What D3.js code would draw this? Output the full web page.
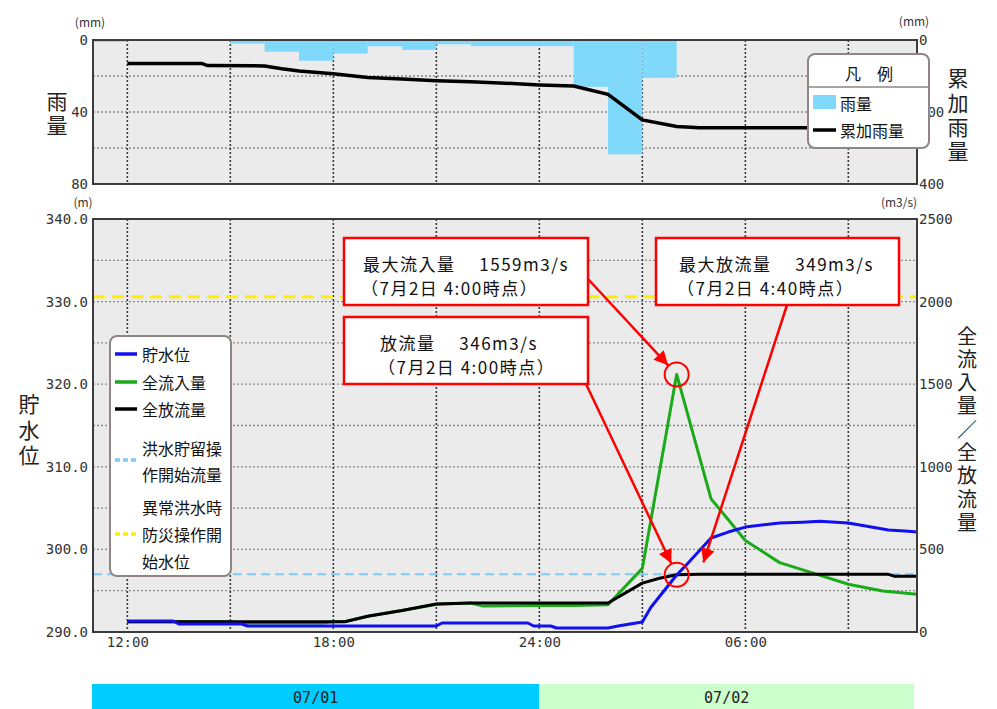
<!DOCTYPE html>
<html><head><meta charset="utf-8">
<script src="https://cdn.jsdelivr.net/npm/d3@7"></script>
<style>
body{margin:0;background:#fff;}
svg text{font-family:"Noto Sans CJK JP","Noto Sans",sans-serif;}
</style></head><body>
<svg id="c" width="997" height="709"></svg>
<script>
// ---------- DATA ----------
// hourly rainfall (mm), each value is the hour ending at the given time
const rainTimes  = ["07/01 12:00","07/01 13:00","07/01 14:00","07/01 15:00","07/01 16:00","07/01 17:00","07/01 18:00","07/01 19:00","07/01 20:00","07/01 21:00","07/01 22:00","07/01 23:00","07/02 00:00","07/02 01:00","07/02 02:00","07/02 03:00","07/02 04:00","07/02 05:00","07/02 06:00","07/02 07:00","07/02 08:00","07/02 09:00","07/02 10:00","07/02 11:00"];
const rainValues = [1, 0, 0, 0, 2, 6.5, 11.5, 7.5, 3.5, 5.5, 2.4, 3.4, 3.4, 3.4, 26, 63.5, 21, 0, 0, 0, 0, 0, 0, 0];

// cumulative rainfall (mm)
const cumTimes  = ["07/01 12:00","07/01 14:10","07/01 14:20","07/01 16:00","07/01 16:30","07/01 17:00","07/01 18:00","07/01 19:00","07/01 20:00","07/01 21:00","07/01 22:00","07/01 23:00","07/02 00:00","07/02 01:00","07/02 02:00","07/02 03:00","07/02 04:00","07/02 04:40","07/02 11:00"];
const cumValues = [65, 65, 71, 72, 80, 86, 94, 104, 108, 113, 116, 120, 125, 128, 151, 222, 240, 244, 244];

// reservoir water level (m)
const levelTimes  = ["07/01 12:00","07/01 13:20","07/01 13:30","07/01 15:20","07/01 15:30","07/01 21:00","07/01 21:10","07/01 23:40","07/01 23:50","07/02 00:20","07/02 00:30","07/02 02:00","07/02 02:20","07/02 03:00","07/02 03:15","07/02 04:00","07/02 04:20","07/02 05:00","07/02 05:30","07/02 06:00","07/02 07:00","07/02 07:40","07/02 08:10","07/02 09:00","07/02 09:40","07/02 10:10","07/02 10:45","07/02 11:00"];
const levelValues = [291.33, 291.33, 290.97, 290.97, 290.73, 290.73, 291.09, 291.09, 290.73, 290.73, 290.48, 290.48, 290.75, 291.21, 293.0, 296.9, 298.35, 301.38, 302.1, 302.7, 303.2, 303.3, 303.4, 303.2, 302.7, 302.35, 302.2, 302.1];

// total inflow (m3/s)
const inflowTimes  = ["07/01 12:00","07/01 15:00","07/01 15:20","07/01 17:40","07/01 18:00","07/01 18:20","07/01 19:00","07/01 20:00","07/01 21:00","07/01 22:00","07/01 22:20","07/02 00:00","07/02 01:00","07/02 02:00","07/02 03:00","07/02 04:00","07/02 05:00","07/02 06:00","07/02 07:00","07/02 08:00","07/02 09:00","07/02 10:00","07/02 11:00"];
const inflowValues = [62, 62, 55, 55, 62, 63, 95, 130, 168, 176, 158, 160, 160, 165, 385, 1559, 807, 554, 420, 355, 289, 248, 229];

// total outflow (m3/s)
const outflowTimes  = ["07/01 12:00","07/01 18:20","07/01 19:00","07/01 20:00","07/01 21:00","07/01 22:00","07/02 02:00","07/02 03:00","07/02 03:30","07/02 04:00","07/02 04:40","07/02 10:10","07/02 10:20","07/02 11:00"];
const outflowValues = [62, 62, 95, 130, 170, 176, 176, 296, 325, 346, 349, 349, 338, 338];

const floodStartFlow = 350;     // 洪水貯留操作開始流量 (m3/s)
const emergencyLevel = 330.6;   // 異常洪水時防災操作開始水位 (m)

const xTickTimes  = ["07/01 12:00","07/01 18:00","07/02 00:00","07/02 06:00"];
const xTickLabels = ["12:00","18:00","24:00","06:00"];
const gridTimes   = ["07/01 12:00","07/01 15:00","07/01 18:00","07/01 21:00","07/02 00:00","07/02 03:00","07/02 06:00","07/02 09:00"];
const rainTicks   = [0, 40, 80];
const cumTicks    = [0, 200, 400];
const levelTicks  = [290, 300, 310, 320, 330, 340];
const flowTicks   = [0, 500, 1000, 1500, 2000, 2500];
const days        = [{label:"07/01", start:"07/01 11:00", end:"07/02 00:00"}, {label:"07/02", start:"07/02 00:00", end:"07/02 11:00"}];

const annotations = [
  {l1:"最大流入量　 1559m3/s", l2:"（7月2日 4:00時点）", time:"07/02 04:00", value:1559, circle:true},
  {l1:"放流量　 346m3/s",      l2:"（7月2日 4:00時点）", time:"07/02 04:00", value:346,  circle:true},
  {l1:"最大放流量　 349m3/s",  l2:"（7月2日 4:40時点）", time:"07/02 04:40", value:349,  circle:false}
];

// ---------- DRAW ----------
const parse = d3.timeParse("%m/%d %H:%M");
const svg = d3.select("#c");
const X0 = 93, X1 = 917;
const T0 = 40, T1 = 184;   // top panel
const B0 = 219, B1 = 632;  // bottom panel

const x = d3.scaleTime().domain([parse("07/01 11:00"), parse("07/02 11:00")]).range([X0, X1]);
const yRain = d3.scaleLinear().domain([0, 80]).range([T0, T1]);
const yCum  = d3.scaleLinear().domain([0, 400]).range([T0, T1]);
const yLev  = d3.scaleLinear().domain([290, 340]).range([B1, B0]);
const yFlow = d3.scaleLinear().domain([0, 2500]).range([B1, B0]);

const defs = svg.append("defs");
defs.append("clipPath").attr("id","clipT").append("rect").attr("x",X0).attr("y",T0).attr("width",X1-X0).attr("height",T1-T0);
defs.append("clipPath").attr("id","clipB").append("rect").attr("x",X0).attr("y",B0).attr("width",X1-X0).attr("height",B1-B0);
defs.append("marker").attr("id","arr").attr("viewBox","0 0 10 10").attr("refX",10).attr("refY",5)
  .attr("markerUnits","userSpaceOnUse").attr("markerWidth",15).attr("markerHeight",14).attr("orient","auto")
  .append("path").attr("d","M0,0 L10,5 L0,10 z").attr("fill","#ff0000");

function panel(y0, y1, hGridVals, hScale) {
  svg.append("rect").attr("x",X0).attr("y",y0).attr("width",X1-X0).attr("height",y1-y0).attr("fill","#ebebeb");
  const g = svg.append("g");
  g.selectAll("line.h").data(hGridVals).join("line")
    .attr("x1",X0).attr("x2",X1).attr("y1",d=>hScale(d)).attr("y2",d=>hScale(d))
    .attr("stroke","#8a8a8a").attr("stroke-width",1.3).attr("stroke-dasharray","2,2");
  g.selectAll("line.v").data(gridTimes).join("line")
    .attr("x1",d=>x(parse(d))).attr("x2",d=>x(parse(d))).attr("y1",y0).attr("y2",y1)
    .attr("stroke","#3a3a3a").attr("stroke-width",1.6).attr("stroke-dasharray","2,2");
}

// ----- top panel -----
panel(T0, T1, [20, 40, 60], yRain);
const gTop = svg.append("g").attr("clip-path","url(#clipT)");
gTop.selectAll("rect.rain").data(rainTimes.map((t,i)=>({t:parse(t), v:rainValues[i]})).filter(d=>d.v>0)).join("rect")
  .attr("x", d=>x(d3.timeHour.offset(d.t,-1)))
  .attr("width", d=>x(d.t)-x(d3.timeHour.offset(d.t,-1)))
  .attr("y", yRain(0)).attr("height", d=>yRain(d.v)-yRain(0))
  .attr("fill","#80d8fb");
gTop.append("path")
  .datum(cumTimes.map((t,i)=>({t:parse(t), v:cumValues[i]})))
  .attr("d", d3.line().x(d=>x(d.t)).y(d=>yCum(d.v)))
  .attr("fill","none").attr("stroke","#000").attr("stroke-width",3.5);
svg.append("rect").attr("x",X0).attr("y",T0).attr("width",X1-X0).attr("height",T1-T0)
  .attr("fill","none").attr("stroke","#3c3c3c").attr("stroke-width",2);

function styleAxis(g){
  g.select(".domain").remove();
  g.selectAll("text").attr("fill","#333").style("font-size","14px")
    .style("font-family","'DejaVu Sans Mono','Liberation Mono',monospace");
}
svg.append("g").attr("transform",`translate(${X0},0)`)
  .call(d3.axisLeft(yRain).tickValues(rainTicks).tickFormat(d3.format("d")).tickSize(0).tickPadding(5)).call(styleAxis);
svg.append("g").attr("transform",`translate(${X1},0)`)
  .call(d3.axisRight(yCum).tickValues(cumTicks).tickFormat(d3.format("d")).tickSize(0).tickPadding(2)).call(styleAxis);

// ----- bottom panel -----
panel(B0, B1, d3.range(250, 2500, 250), yFlow);
const gB = svg.append("g").attr("clip-path","url(#clipB)");
gB.append("line").attr("x1",X0).attr("x2",X1).attr("y1",yFlow(floodStartFlow)).attr("y2",yFlow(floodStartFlow))
  .attr("stroke","#80ccf5").attr("stroke-width",2).attr("stroke-dasharray","9,5");
const line = d3.line().x(d=>x(d.t)).y(d=>d.y);
function series(times, vals, scale, color){
  gB.append("path").datum(times.map((t,i)=>({t:parse(t), y:scale(vals[i])})))
    .attr("d", line).attr("fill","none").attr("stroke",color).attr("stroke-width",3).attr("stroke-linejoin","round");
}
series(inflowTimes, inflowValues, yFlow, "#1aaa1a");
series(outflowTimes, outflowValues, yFlow, "#000000");
series(levelTimes, levelValues, yLev, "#1010f0");
svg.append("line").attr("x1",X0).attr("x2",X1).attr("y1",yLev(emergencyLevel)).attr("y2",yLev(emergencyLevel))
  .attr("stroke","#ffee00").attr("stroke-width",3).attr("stroke-dasharray","12,7");
svg.append("rect").attr("x",X0).attr("y",B0).attr("width",X1-X0).attr("height",B1-B0)
  .attr("fill","none").attr("stroke","#3c3c3c").attr("stroke-width",2);

svg.append("g").attr("transform",`translate(${X0},0)`)
  .call(d3.axisLeft(yLev).tickValues(levelTicks).tickFormat(d3.format(".1f")).tickSize(0).tickPadding(5)).call(styleAxis);
svg.append("g").attr("transform",`translate(${X1},0)`)
  .call(d3.axisRight(yFlow).tickValues(flowTicks).tickFormat(d3.format("d")).tickSize(0).tickPadding(2)).call(styleAxis);
svg.append("g").attr("transform",`translate(0,${B1})`)
  .call(d3.axisBottom(x).tickValues(xTickTimes.map(parse)).tickFormat((d,i)=>xTickLabels[i]).tickSize(0).tickPadding(5)).call(styleAxis);

// units
const unit = (t, xx, yy) => svg.append("text").text(t).attr("x",xx).attr("y",yy)
  .attr("text-anchor","middle").attr("dominant-baseline","central").attr("fill","#333").style("font-size","12px");
unit("(mm)", 90, 21);
unit("(mm)", 914, 20);
unit("(m)", 83, 201);
unit("(m3/s)", 899, 201);

// vertical titles (single text, vertical writing mode)
function vtitle(str, xx, yTop, step, size){
  svg.append("text").text(str).attr("x",xx).attr("y",yTop)
    .style("writing-mode","vertical-rl").style("glyph-orientation-vertical","0")
    .style("font-size",size+"px").style("letter-spacing",(step-size)+"px")
    .attr("fill","#222");
}
vtitle("雨量", 57, 91, 23.5, 21);
vtitle("累加雨量", 958, 68, 24.2, 21);
vtitle("貯水位", 29, 394, 25.5, 21);
vtitle("全流入量／全放流量", 967, 326, 23.3, 20);

// day bar
const gd = svg.append("g");
days.forEach((d,i)=>{
  const xa = i===0 ? 92 : x(parse(d.start));
  const xb = i===0 ? x(parse(d.end)) : 914;
  gd.append("rect").attr("x",xa).attr("y",684).attr("width",xb-xa).attr("height",30)
    .attr("fill", i===0 ? "#00ccff" : "#ccffcc");
  gd.append("text").text(d.label).attr("x",(xa+xb)/2).attr("y",698).attr("text-anchor","middle")
    .attr("dominant-baseline","central").attr("fill","#222")
    .style("font-size","15px").style("font-family","'DejaVu Sans Mono',monospace");
});

// top legend
const lt = svg.append("g");
lt.append("rect").attr("x",808).attr("y",54).attr("width",121).attr("height",94).attr("rx",7)
  .attr("fill","#fff").attr("stroke","#8d8682").attr("stroke-width",2);
lt.append("text").text("凡　例").attr("x",869).attr("y",73).attr("text-anchor","middle")
  .attr("dominant-baseline","central").style("font-size","16px").attr("fill","#111");
lt.append("line").attr("x1",809).attr("x2",928).attr("y1",87).attr("y2",87).attr("stroke","#8d8682").attr("stroke-width",1.5);
lt.append("rect").attr("x",813).attr("y",95).attr("width",23).attr("height",14).attr("fill","#80d8fb");
lt.append("text").text("雨量").attr("x",840).attr("y",103).attr("dominant-baseline","central").style("font-size","16px").attr("fill","#111");
lt.append("line").attr("x1",813).attr("x2",836).attr("y1",130).attr("y2",130).attr("stroke","#000").attr("stroke-width",3.5);
lt.append("text").text("累加雨量").attr("x",840).attr("y",130).attr("dominant-baseline","central").style("font-size","16px").attr("fill","#111");

// bottom legend
const lb = svg.append("g");
lb.append("rect").attr("x",110).attr("y",336).attr("width",121).attr("height",240).attr("rx",7)
  .attr("fill","#fff").attr("stroke","#8d8682").attr("stroke-width",2);
const legItems = [
  {lines:["貯水位"], ys:[354], ly:354, color:"#1010f0", dash:null},
  {lines:["全流入量"], ys:[382], ly:382, color:"#1aaa1a", dash:null},
  {lines:["全放流量"], ys:[409], ly:409, color:"#000", dash:null},
  {lines:["洪水貯留操","作開始流量"], ys:[448,474], ly:460, color:"#80ccf5", dash:"5,3"},
  {lines:["異常洪水時","防災操作開","始水位"], ys:[507,534,561], ly:534, color:"#ffee00", dash:"5,3"}
];
legItems.forEach(it=>{
  const l = lb.append("line").attr("x1",115).attr("x2",137).attr("y1",it.ly).attr("y2",it.ly)
    .attr("stroke",it.color).attr("stroke-width",3.5);
  if (it.dash) l.attr("stroke-dasharray",it.dash);
  it.lines.forEach((s,j)=>lb.append("text").text(s).attr("x",142).attr("y",it.ys[j])
    .attr("dominant-baseline","central").style("font-size","16px").attr("fill","#111"));
});

// annotations
const boxes = [
  {x:344, y:238, w:244, h:67, tx:363, sx:588, sy:279},
  {x:344, y:317, w:244, h:67, tx:380, sx:586, sy:384},
  {x:656, y:238, w:243, h:67, tx:679, sx:787, sy:305}
];
const ga = svg.append("g");
annotations.forEach((a,i)=>{
  const b = boxes[i];
  const cx = x(parse(a.time)), cy = yFlow(a.value);
  const dx = cx - b.sx, dy = cy - b.sy, len = Math.hypot(dx,dy), r = 12.5;
  ga.append("line").attr("x1",b.sx).attr("y1",b.sy).attr("x2",cx-dx/len*r).attr("y2",cy-dy/len*r)
    .attr("stroke","#ff0000").attr("stroke-width",2.5).attr("marker-end","url(#arr)");
  if (a.circle) ga.append("circle").attr("cx",cx).attr("cy",cy).attr("r",12).attr("fill","none")
    .attr("stroke","#ff0000").attr("stroke-width",2);
});
annotations.forEach((a,i)=>{
  const b = boxes[i];
  ga.append("rect").attr("x",b.x).attr("y",b.y).attr("width",b.w).attr("height",b.h)
    .attr("fill","#fff").attr("stroke","#ff0000").attr("stroke-width",2.5);
  ga.append("text").text(a.l1).attr("x",b.tx).attr("y",b.y+25).attr("dominant-baseline","central")
    .style("font-size","17px").style("letter-spacing","1.5px").attr("fill","#111");
  ga.append("text").text(a.l2).attr("x",b.tx-2).attr("y",b.y+49).attr("dominant-baseline","central")
    .style("font-size","17px").style("letter-spacing","1.5px").attr("fill","#111");
});
</script>
</body></html>
